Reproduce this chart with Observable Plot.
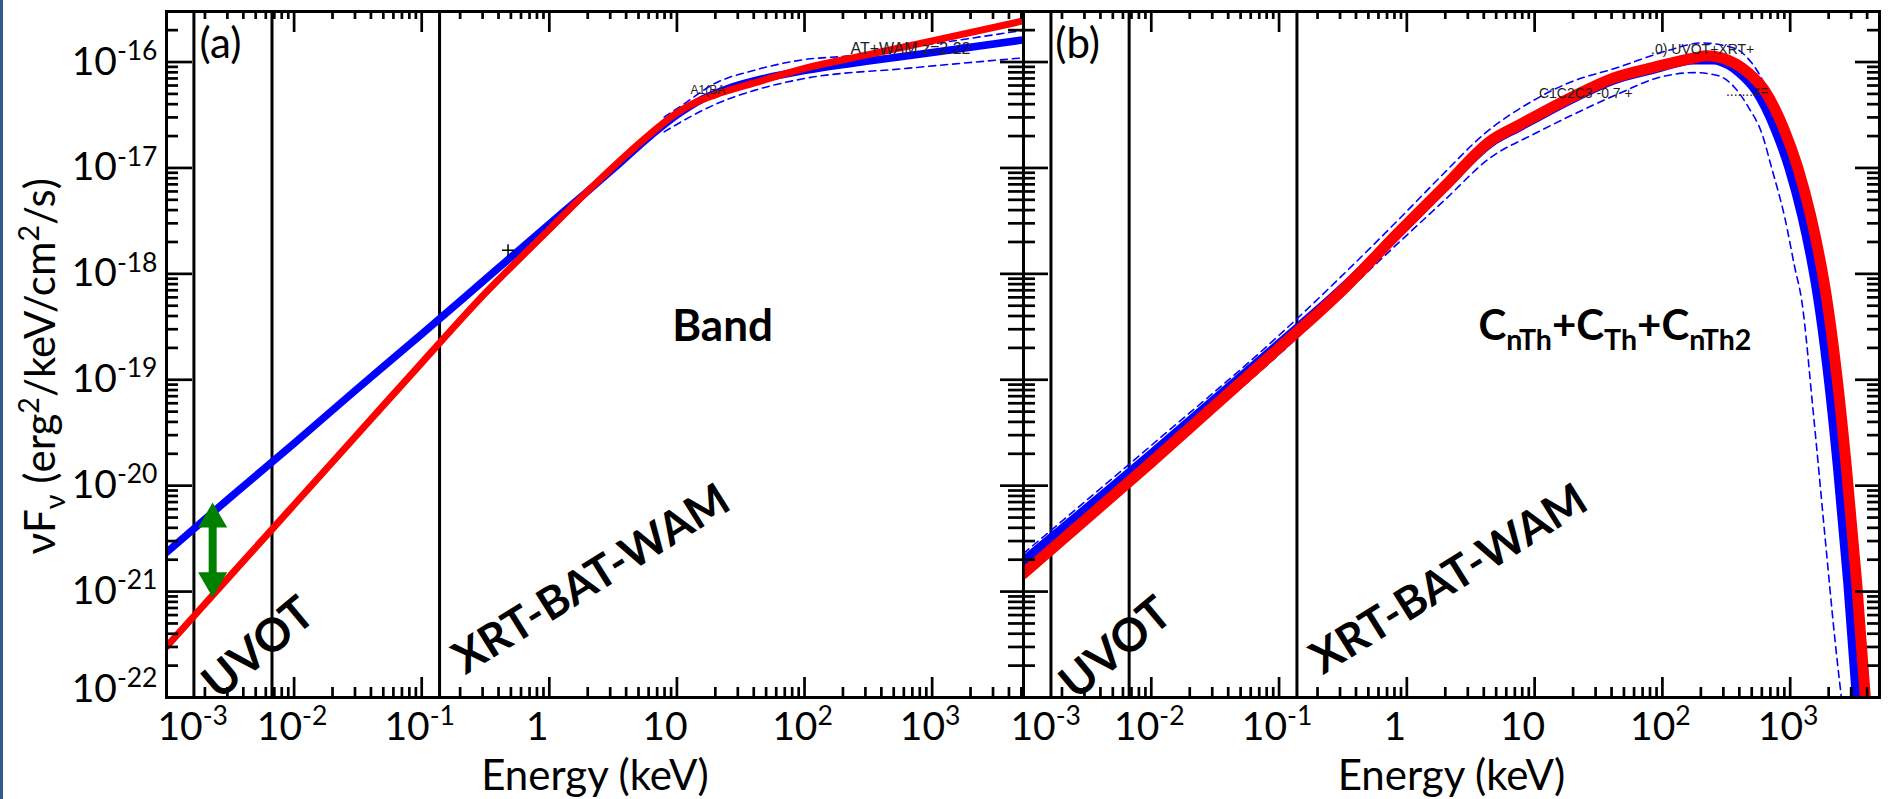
<!DOCTYPE html>
<html>
<head>
<meta charset="utf-8">
<script src="https://cdn.jsdelivr.net/npm/d3@7"></script>
<script src="https://cdn.jsdelivr.net/npm/@observablehq/plot@0.6"></script>
<style>
  html, body { margin: 0; padding: 0; background: #ffffff; }
  #page { position: relative; width: 1892px; height: 799px; overflow: hidden; background: #ffffff; }
  #strip { position: absolute; left: 0; top: 0; width: 3px; height: 799px; background: #2d5b8b; }
  .panel { position: absolute; top: 0; }
  .panel svg { overflow: visible; background: transparent; }
</style>
</head>
<body>
<div id="page"><div class="panel" id="pa"></div><div class="panel" id="pb"></div><div id="strip"></div></div>
<script>
// ------------------------------------------------------------------ data
const xTickValues = [1e-3, 1e-2, 1e-1, 1, 10, 100, 1000];
const xTickLabels = ["10^{-3}", "10^{-2}", "10^{-1}", "1", "10", "10^{2}", "10^{3}"];
const yTickValues = [1e-22, 1e-21, 1e-20, 1e-19, 1e-18, 1e-17, 1e-16];
const yTickLabels = ["10^{-22}", "10^{-21}", "10^{-20}", "10^{-19}", "10^{-18}", "10^{-17}", "10^{-16}"];
const yTitle = "νF_{ν} (erg^{2}/keV/cm^{2}/s)";
const xTitle = "Energy (keV)";

// instrument band edges (keV): UVOT low, UVOT high / XRT low
const instrumentEdgesKeV = [1.64e-3, 6.71e-3, 0.138];

// values stored as log10(E/keV) and log10(nuFnu)
// Panel (a) : Band
const bandBlueLogE = [-3.0, -2.5, -2.0, -1.5, -1.0, -0.5, 0.0, 0.3, 0.5, 0.8, 1.0, 1.2, 1.4, 1.7, 2.0, 2.5, 3.0, 3.72];
const bandBlueLogF = [-20.63, -20.11, -19.60, -19.08, -18.57, -18.05, -17.53, -17.22, -17.01, -16.69, -16.50, -16.35, -16.25, -16.15, -16.08, -15.99, -15.91, -15.79];
const bandRedLogE  = [-3.0, -2.5, -2.0, -1.5, -1.0, -0.5, 0.0, 0.3, 0.6, 0.8, 1.0, 1.15, 1.3, 1.6, 2.0, 2.5, 3.0, 3.72];
const bandRedLogF  = [-21.52, -20.85, -20.18, -19.51, -18.84, -18.18, -17.58, -17.22, -16.88, -16.67, -16.48, -16.38, -16.31, -16.20, -16.06, -15.93, -15.80, -15.61];
const bandHiLogE   = [0.9, 1.05, 1.3, 1.6, 1.98, 2.37, 3.0, 3.72];
const bandHiLogF   = [-16.52, -16.40, -16.20, -16.08, -15.98, -15.94, -15.83, -15.70];
const bandLoLogE   = [0.9, 1.1, 1.3, 1.6, 1.98, 2.8, 3.72];
const bandLoLogF   = [-16.66, -16.52, -16.40, -16.27, -16.16, -16.06, -15.96];

// Panel (b) : CnTh + CTh + CnTh2
const compRedLogE  = [-3, -2, -1, -0.5, -0.05, 0.29, 0.66, 0.87, 1.07, 1.31, 1.62, 1.93, 2.25, 2.35, 2.46, 2.67, 2.80, 2.95, 3.06, 3.16, 3.24, 3.28, 3.36, 3.44, 3.52, 3.60];
const compRedLogF  = [-20.83, -19.78, -18.70, -18.15, -17.59, -17.18, -16.74, -16.60, -16.47, -16.32, -16.15, -16.05, -15.96, -15.94, -15.96, -16.10, -16.27, -16.63, -17.00, -17.45, -17.91, -18.19, -18.91, -19.83, -20.91, -22.19];
const compBlueLogE = [-3, -2, -1, -0.5, -0.05, 0.29, 0.66, 0.87, 1.07, 1.31, 1.62, 1.93, 2.25, 2.40, 2.52, 2.60, 2.73, 2.88, 2.99, 3.09, 3.17, 3.21, 3.29, 3.37, 3.45, 3.53];
const compBlueLogF = [-20.71, -19.70, -18.66, -18.13, -17.60, -17.19, -16.76, -16.62, -16.49, -16.34, -16.17, -16.07, -15.98, -15.98, -16.03, -16.10, -16.27, -16.63, -17.00, -17.45, -17.91, -18.19, -18.91, -19.83, -20.91, -22.19];
const compHiLogE   = [-3, -2, -1, -0.05, 0.29, 0.605, 0.995, 1.26, 1.655, 2.047, 2.306, 2.565, 2.70, 2.83, 2.935, 3.00, 3.08, 3.18, 3.26, 3.30, 3.38, 3.46, 3.54, 3.62];
const compHiLogF   = [-20.64, -19.62, -18.58, -17.47, -17.05, -16.68, -16.36, -16.20, -16.05, -15.89, -15.82, -15.87, -16.01, -16.27, -16.52, -16.72, -17.00, -17.45, -17.91, -18.19, -18.91, -19.83, -20.91, -22.19];
const compLoLogE   = [-3, -2, -1, -0.05, 0.29, 0.657, 0.995, 1.364, 1.655, 1.99, 2.25, 2.44, 2.565, 2.675, 2.78, 2.855, 2.958, 3.036, 3.09, 3.18, 3.27, 3.35, 3.42];
const compLoLogF   = [-20.80, -19.80, -18.76, -17.69, -17.31, -16.90, -16.68, -16.46, -16.30, -16.14, -16.10, -16.13, -16.24, -16.43, -16.68, -17.00, -17.47, -17.94, -18.25, -19.30, -20.45, -21.45, -22.20];

// green double arrow in (a): energy, top and bottom flux
const arrowKeV = 2.30e-3;
const arrowTipTop = 6.95e-21, arrowTipBottom = 8.81e-22;
const arrowShaftTop = 4.4e-21, arrowShaftBottom = 1.40e-21;

// ------------------------------------------------------------------ helpers
const rows = (lx, ly) => lx.map((v, i) => ({E: Math.pow(10, v), F: Math.pow(10, ly[i])}));
const FONT = "Lato, 'Open Sans', 'Noto Sans', sans-serif";
const SMALLFONT = "'Liberation Sans', Arial, sans-serif";
const BLUE = "#0000ff", RED = "#ff0000", GREEN = "#008000";
const Y_TOP = 3.0e-16;
const HEIGHT = 799, MT = 11, MB = 102, PH = HEIGHT - MT - MB;

function richText(svg) {
  const NS = "http://www.w3.org/2000/svg";
  svg.querySelectorAll("text").forEach((t) => {
    const s = t.textContent;
    if (!/[\^_]\{/.test(s)) return;
    const fs = parseFloat(getComputedStyle(t).fontSize) || 16;
    const parts = [];
    let i = 0, buf = "";
    while (i < s.length) {
      const c = s[i];
      if ((c === "^" || c === "_") && s[i + 1] === "{") {
        if (buf) parts.push({t: buf, k: 0});
        buf = "";
        const j = s.indexOf("}", i + 2);
        parts.push({t: s.slice(i + 2, j), k: c === "^" ? 1 : -1});
        i = j + 1;
      } else { buf += c; i++; }
    }
    if (buf) parts.push({t: buf, k: 0});
    while (t.firstChild) t.removeChild(t.firstChild);
    let cur = 0;
    for (const p of parts) {
      const ts = document.createElementNS(NS, "tspan");
      const target = p.k === 1 ? -0.38 * fs : p.k === -1 ? 0.24 * fs : 0;
      if (target !== cur) ts.setAttribute("dy", (target - cur).toFixed(2));
      cur = target;
      if (p.k !== 0) ts.setAttribute("font-size", (0.68 * fs).toFixed(2));
      ts.textContent = p.t;
      t.appendChild(ts);
    }
    if (s === yTitle) t.setAttribute("text-anchor", "middle");
  });
}

function makePanel(cfg) {
  const pw = cfg.width - cfg.marginLeft - cfg.marginRight;
  const minorX = xTickValues.flatMap(m => [2,3,4,5,6,7,8,9].map(k => m * k)).filter(v => v < cfg.xMax);
  const majorX = xTickValues.filter(v => v > 1e-3 && v < cfg.xMax);
  const minorY = yTickValues.flatMap(m => [2,3,4,5,6,7,8,9].map(k => m * k)).filter(v => v < Y_TOP);
  const majorY = yTickValues.filter(v => v > 1e-22 && v < Y_TOP);
  const tk = {stroke: "black", strokeWidth: 2.7};
  const xi = xTickValues.map((v, i) => i);
  const LBL_DY = 42;

  const marks = [
    Plot.ruleX(instrumentEdgesKeV, {x: d => d, stroke: "black", strokeWidth: 3}),
    Plot.line(rows(cfg.hiE, cfg.hiF), {x: "E", y: "F", stroke: BLUE, strokeWidth: 1.6, strokeDasharray: "7,5", curve: "monotone-x", clip: true}),
    Plot.line(rows(cfg.loE, cfg.loF), {x: "E", y: "F", stroke: BLUE, strokeWidth: 1.6, strokeDasharray: "7,5", curve: "monotone-x", clip: true}),
    Plot.line(rows(cfg.blueE, cfg.blueF), {x: "E", y: "F", stroke: BLUE, strokeWidth: cfg.blueW, curve: "monotone-x", clip: true}),
    Plot.line(rows(cfg.redE, cfg.redF), {x: "E", y: "F", stroke: RED, strokeWidth: cfg.redW, curve: "monotone-x", clip: true}),
    // ticks: bottom / top
    Plot.ruleX(majorX, {x: d => d, insetTop: PH - 20, ...tk}),
    Plot.ruleX(minorX, {x: d => d, insetTop: PH - 10, ...tk}),
    Plot.ruleX(majorX, {x: d => d, insetBottom: PH - 21, ...tk}),
    Plot.ruleX(minorX, {x: d => d, insetBottom: PH - 8, ...tk}),
    // ticks: left / right
    Plot.ruleY(majorY, {y: d => d, insetRight: pw - cfg.leftTicks[0], ...tk}),
    Plot.ruleY(minorY, {y: d => d, insetRight: pw - cfg.leftTicks[1], ...tk}),
    Plot.ruleY(majorY, {y: d => d, insetLeft: pw - cfg.rightTicks[0], ...tk}),
    Plot.ruleY(minorY, {y: d => d, insetLeft: pw - cfg.rightTicks[1], ...tk}),
    Plot.frame({stroke: "black", strokeWidth: 3}),
    // x tick labels
    Plot.text(xi.filter(i => i === 0), {x: i => xTickValues[i], text: i => xTickLabels[i], frameAnchor: "bottom", dy: LBL_DY, dx: cfg.firstDx, lineAnchor: "bottom", textAnchor: "start", fontSize: 39, fontFamily: FONT, fill: "black"}),
    Plot.text(xi.filter(i => i === 3 || i === 4), {x: i => xTickValues[i], text: i => xTickLabels[i], frameAnchor: "bottom", dy: LBL_DY, dx: -12, lineAnchor: "bottom", textAnchor: "middle", fontSize: 39, fontFamily: FONT, fill: "black"}),
    Plot.text(xi.filter(i => i !== 0 && i !== 3 && i !== 4), {x: i => xTickValues[i], text: i => xTickLabels[i], frameAnchor: "bottom", dy: LBL_DY, dx: -2, lineAnchor: "bottom", textAnchor: "middle", fontSize: 39, fontFamily: FONT, fill: "black"}),
    Plot.text([0], {frameAnchor: "bottom", text: () => xTitle, dy: 92, lineAnchor: "bottom", textAnchor: "middle", fontSize: 42, fontFamily: FONT, fill: "black"}),
    // panel letter and model name
    Plot.text([0], {x: () => 2.65e-3, y: () => 1.45e-16, text: () => cfg.letter, textAnchor: "middle", fontSize: 42, fontFamily: FONT, fill: "black"}),
    Plot.text([0], {x: () => cfg.modelE, y: () => 3.19e-19, text: () => cfg.model, textAnchor: "middle", fontSize: cfg.modelSize, fontWeight: "bold", fontFamily: FONT, fill: "black"}),
    // instrument labels
    Plot.text([0], {x: () => 5.3e-3, y: () => 2.91e-22, text: () => "UVOT", rotate: -40, textAnchor: "middle", fontSize: 46, fontWeight: "bold", fontFamily: FONT, fill: "black"}),
    Plot.text([0], {x: () => 2.14, y: () => 1.30e-21, text: () => "XRT-BAT-WAM", rotate: -32, textAnchor: "middle", fontSize: 45, fontWeight: "bold", fontFamily: FONT, fill: "black"}),
    // small residual labels of the original fit plot
    Plot.text(cfg.small, {x: "E", y: "F", text: "t", fontSize: "s", textAnchor: "start", fontFamily: SMALLFONT, fill: "#222"})
  ];

  if (cfg.yLabels) {
    const yi = yTickValues.map((v, i) => i);
    marks.push(
      Plot.text(yi.filter(i => i > 0), {y: i => yTickValues[i], text: i => yTickLabels[i], frameAnchor: "left", textAnchor: "end", dx: -9, lineAnchor: "middle", fontSize: 39, fontFamily: FONT, fill: "black"}),
      Plot.text(yi.filter(i => i === 0), {y: i => yTickValues[i], text: i => yTickLabels[i], frameAnchor: "left", textAnchor: "end", dx: -9, dy: -8, lineAnchor: "middle", fontSize: 39, fontFamily: FONT, fill: "black"}),
      // y title, centred on the left frame edge at the height of nuFnu ~ 1.34e-19
      Plot.text([0], {x: () => 1e-3, y: () => 1.34e-19, text: () => yTitle, rotate: -90, dx: 54 - cfg.marginLeft, lineAnchor: "bottom", textAnchor: "middle", fontSize: 42, fontFamily: FONT, fill: "black"})
    );
  }
  if (cfg.arrow) {
    marks.push(
      Plot.ruleX([0], {x: () => arrowKeV, y1: () => arrowShaftTop, y2: () => arrowShaftBottom, stroke: GREEN, strokeWidth: 8}),
      Plot.dot([0], {x: () => arrowKeV, y: () => arrowTipTop, symbol: "triangle", r: 10.8, fill: GREEN, stroke: "none", dy: 16.8}),
      Plot.dot([0], {x: () => arrowKeV, y: () => arrowTipBottom, symbol: "triangle", r: 10.8, fill: GREEN, stroke: "none", rotate: 180, dy: -16.8}),
      Plot.dot([0], {x: () => 0.475, y: () => 1.67e-18, symbol: "plus", r: 4, stroke: "black", strokeWidth: 1.5})
    );
  }

  return Plot.plot({
    width: cfg.width, height: HEIGHT,
    marginTop: MT, marginBottom: MB, marginLeft: cfg.marginLeft, marginRight: cfg.marginRight,
    style: {background: "transparent", overflow: "visible"},
    x: {type: "log", domain: [1e-3, cfg.xMax], axis: null},
    y: {type: "log", domain: [1e-22, Y_TOP], axis: null},
    marks
  });
}

const smallA = [
  {E: 229, F: 1.32e-16, t: "AT+WAM z=2.22", s: 16},
  {E: 12.8, F: 5.4e-17, t: "A1(BA", s: 12}
];
const smallB = [
  {E: 81.5, F: 1.32e-16, t: ".0) UVOT+XRT+", s: 14},
  {E: 10.8, F: 5.06e-17, t: "C1C2C3 -0.7 +", s: 14},
  {E: 314, F: 5.28e-17, t: ".......z=", s: 14}
];

const svgA = makePanel({
  width: 1024, marginLeft: 166, marginRight: 1, xMax: 5200, firstDx: -9,
  leftTicks: [26, 12], rightTicks: [23, 15],
  blueE: bandBlueLogE, blueF: bandBlueLogF, redE: bandRedLogE, redF: bandRedLogF,
  hiE: bandHiLogE, hiF: bandHiLogF, loE: bandLoLogE, loF: bandLoLogF,
  blueW: 7.5, redW: 7, letter: "(a)", model: "Band", modelE: 22.8, modelSize: 44,
  small: smallA, yLabels: true, arrow: true
});
const svgB = makePanel({
  width: 892, marginLeft: 23, marginRight: 13, xMax: 5000, firstDx: -13,
  leftTicks: [25, 12], rightTicks: [24, 12],
  blueE: compBlueLogE, blueF: compBlueLogF, redE: compRedLogE, redF: compRedLogF,
  hiE: compHiLogE, hiF: compHiLogF, loE: compLoLogE, loF: compLoLogF,
  blueW: 9, redW: 11, letter: "(b)", model: "C_{nTh}+C_{Th}+C_{nTh2}", modelE: 42.5, modelSize: 42,
  small: smallB, yLabels: false, arrow: false
});

const pa = document.getElementById("pa");
const pb = document.getElementById("pb");
pa.style.left = "0px";
pb.style.left = "1000px";
pa.appendChild(svgA);
pb.appendChild(svgB);
richText(svgA);
richText(svgB);
</script>
</body>
</html>
